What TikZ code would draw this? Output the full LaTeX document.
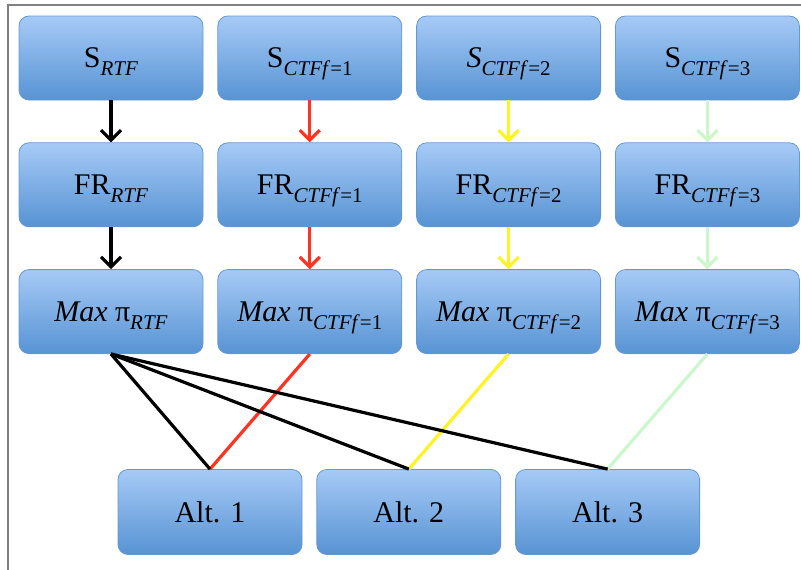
\documentclass[tikz,border=0pt]{standalone}
\usepackage{fontspec}
\setmainfont{Liberation Serif}
\usetikzlibrary{arrows.meta, positioning}
\definecolor{boxtop}{RGB}{166,202,246}
\definecolor{boxbot}{RGB}{87,147,211}
\definecolor{boxedge}{RGB}{104,152,208}
\definecolor{ctfred}{RGB}{255,51,34}
\definecolor{ctfyellow}{RGB}{255,243,38}
\definecolor{ctfgreen}{RGB}{204,247,204}
% lowered subscript that does not change the line height
\newcommand{\lowsub}[1]{\raisebox{-8pt}[0pt][0pt]{\fontsize{21}{21}\selectfont #1}}

\begin{document}
\begin{tikzpicture}[
    x=1pt, y=-1pt,
    stage/.style={rectangle, draw=boxedge, line width=0.8pt, rounded corners=10pt, top color=boxtop, bottom color=boxbot, minimum height=84pt, minimum width=184pt, inner sep=0pt, font=\fontsize{30}{34}\selectfont},
    arrow/.style={-{Straight Barb[length=10pt, width=20pt]}, line width=3.2pt},
    link/.style={line width=3.2pt},
    node distance=42pt and 14pt
]
    \useasboundingbox (0,0) rectangle (801,570);
    \draw[gray, line width=2.2pt] (8,570) -- (8,5) -- (801,5);

    % scenarios
    \node[stage] (s0) at (111,58) {S\lowsub{\textit{RTF}}};
    \node[stage, right=of s0] (s1) {S\lowsub{\textit{CTFf}=1}};
    \node[stage, right=of s1] (s2) {\textit{S}\lowsub{\textit{CTFf}=2}};
    \node[stage, right=of s2] (s3) {S\lowsub{\textit{CTFf}=3}};

    \node[stage, below=of s0] (fr0) {FR\lowsub{\textit{RTF}}};
    \node[stage, below=of s1] (fr1) {FR\lowsub{\textit{CTFf}=1}};
    \node[stage, below=of s2] (fr2) {FR\lowsub{\textit{CTFf}=2}};
    \node[stage, below=of s3] (fr3) {FR\lowsub{\textit{CTFf}=3}};

    \node[stage, below=of fr0] (mx0) {\textit{Max} π\lowsub{\textit{RTF}}};
    \node[stage, below=of fr1] (mx1) {\textit{Max} π\lowsub{\textit{CTFf}=1}};
    \node[stage, below=of fr2] (mx2) {\textit{Max} π\lowsub{\textit{CTFf}=2}};
    \node[stage, below=of fr3] (mx3) {\textit{Max} π\lowsub{\textit{CTFf}=3}};

    % alternatives
    \node[stage, minimum height=85pt] (alt1) at (210,512) {Alt. 1};
    \node[stage, minimum height=85pt, right=of alt1] (alt2) {Alt. 2};
    \node[stage, minimum height=85pt, right=of alt2] (alt3) {Alt. 3};

    \draw[arrow] (s0) -- (fr0);
    \draw[arrow] (fr0) -- (mx0);
    \draw[arrow, ctfred] (s1) -- (fr1);
    \draw[arrow, ctfred] (fr1) -- (mx1);
    \draw[arrow, ctfyellow] (s2) -- (fr2);
    \draw[arrow, ctfyellow] (fr2) -- (mx2);
    \draw[arrow, ctfgreen] (s3) -- (fr3);
    \draw[arrow, ctfgreen] (fr3) -- (mx3);

    \draw[link, ctfred] (mx1.south) -- (alt1.north);
    \draw[link, ctfyellow] (mx2.south) -- (alt2.north);
    \draw[link, ctfgreen] (mx3.south) -- (alt3.north);
    \draw[link] (mx0.south) -- (alt1.north);
    \draw[link] (mx0.south) -- (alt2.north);
    \draw[link] (mx0.south) -- (alt3.north);
\end{tikzpicture}
\end{document}
